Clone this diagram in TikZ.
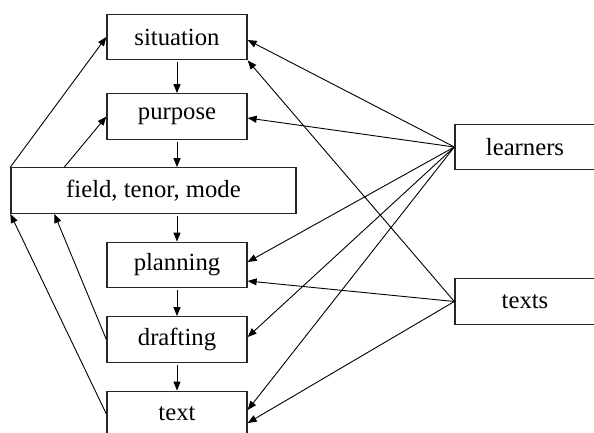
\documentclass[tikz,border=0pt]{standalone}
\usepackage{fontspec}
\setmainfont{Liberation Serif}
\usetikzlibrary{arrows.meta,calc}
\begin{document}
\begin{tikzpicture}[x=1pt,y=-1pt,
  box/.style={draw=black!85,line width=1.3pt,rectangle,inner sep=0pt,
    minimum height=45.5pt,font=\fontsize{24.7}{30}\selectfont},
  sbox/.style={box,minimum width=140pt},
  conn/.style={line width=0.9pt,-{Triangle[length=9pt,width=7pt]}},
  down/.style={conn,shorten <=2pt}]
\useasboundingbox (0,0) rectangle (594,433);
\node[sbox] (situation) at (177,37) {situation};
\node[sbox] (purpose) at (177,116.5) {purpose};
\node[box,minimum width=285pt] (field) at (153.5,190.5) {field, tenor, mode};
\node[sbox] (planning) at (177,265) {planning};
\node[sbox] (drafting) at (177,339.5) {drafting};
\node[sbox] (text) at (177,414) {text};
\node[sbox] (learners) at (525,147) {learners};
\node[sbox] (texts) at (525,301.5) {texts};
% vertical chain
\draw[down] (situation.south) -- (purpose.north);
\draw[down] (purpose.south) -- (field.north -| purpose.south);
\draw[down] (field.south -| planning.north) -- (planning.north);
\draw[down] (planning.south) -- (drafting.north);
\draw[down] (drafting.south) -- (text.north);
% left feedback
\coordinate (f1) at ($(field.north west)+(54,0)$);
\coordinate (f2) at ($(field.south west)+(44,0)$);
\draw[conn] (field.north west) -- (situation.west);
\draw[conn] (f1) -- (purpose.west);
\draw[conn] (drafting.west) -- (f2);
\draw[conn] (text.west) -- (field.south west);
% learners
\draw[conn] (learners.west) -- ([yshift=-3pt]situation.east);
\draw[conn] (learners.west) -- ([yshift=-1.5pt]purpose.east);
\draw[conn] (learners.west) -- ([yshift=3pt]planning.east);
\draw[conn] (learners.west) -- ([yshift=2.5pt]drafting.east);
\draw[conn] (learners.west) -- ([yshift=4pt]text.east);
% texts
\draw[conn] (texts.west) -- (situation.south east);
\draw[conn] (texts.west) -- ([yshift=-16pt]planning.east);
\draw[conn] (texts.west) -- ([yshift=-9pt]text.east);
\end{tikzpicture}
\end{document}
